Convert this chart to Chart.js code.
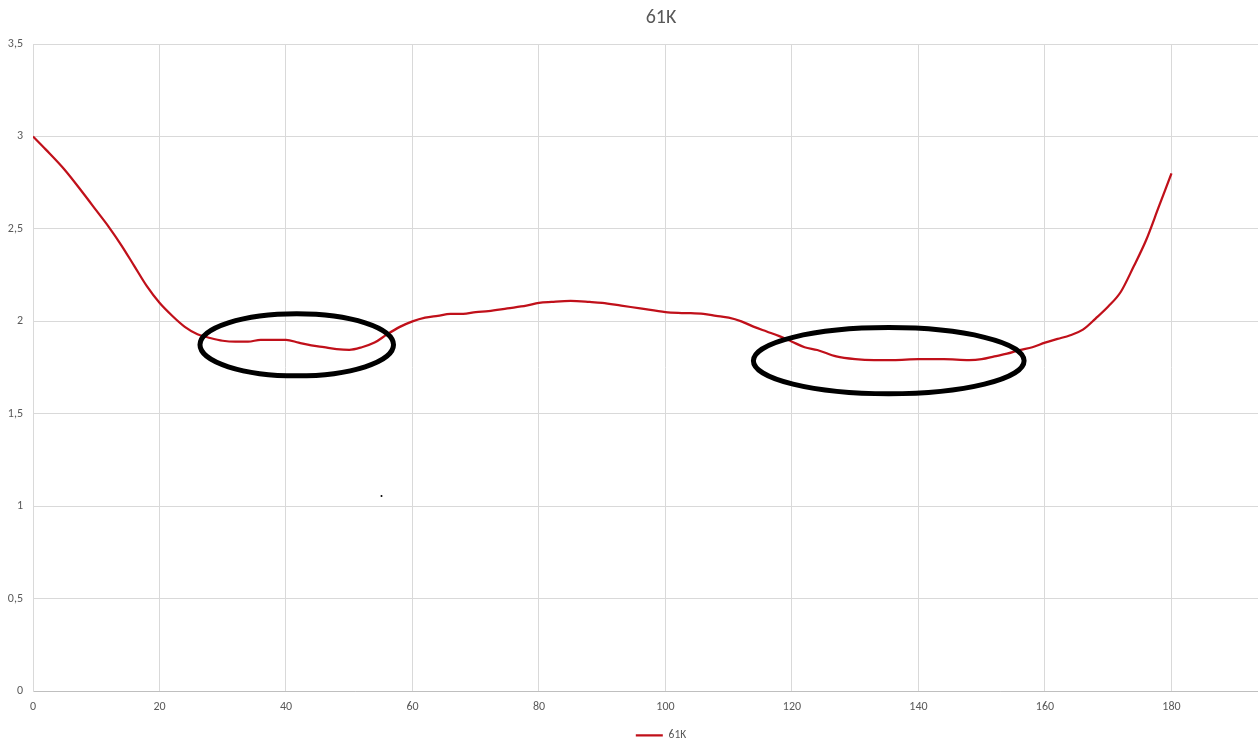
<!DOCTYPE html>
<html>
<head>
<meta charset="utf-8">
<script src="https://cdn.jsdelivr.net/npm/chart.js@4"></script>
<style>
    html, body { margin: 0; padding: 0; background: #fff; overflow: hidden; }
    /* the reference is a crop of a wider chart, so the canvas is wider than the window */
    #wrap { width: 1322px; height: 742px; }
</style>
</head>
<body>
<div id="wrap"><canvas id="chart"></canvas></div>
<script>
// series
const seriesName = '61K';
const xValues = [0, 2, 5, 8, 10, 12, 14, 16, 18, 20, 22, 24, 26, 28, 30, 32, 34, 36, 38, 40,
    42, 44, 46, 48, 50, 52, 54, 56, 58, 60, 62, 64, 66, 68, 70, 72, 75, 78, 80, 82,
    85, 88, 90, 93, 96, 100, 103, 106, 108, 110, 112, 114, 116, 118, 120, 122, 124, 127, 130, 133,
    136, 140, 144, 148, 150, 152, 154, 156, 158, 160, 162, 164, 166, 168, 170, 172, 174, 176, 178, 180];
const yValues = [3.0, 2.93, 2.82, 2.69, 2.60, 2.51, 2.41, 2.30, 2.19, 2.10, 2.03, 1.97, 1.93, 1.91, 1.895, 1.89, 1.89, 1.90, 1.90, 1.90,
    1.885, 1.87, 1.86, 1.85, 1.846, 1.86, 1.885, 1.93, 1.97, 2.00, 2.02, 2.03, 2.04, 2.04, 2.05, 2.055, 2.07, 2.085, 2.10, 2.105,
    2.11, 2.105, 2.10, 2.085, 2.07, 2.05, 2.045, 2.04, 2.03, 2.02, 2.00, 1.97, 1.945, 1.92, 1.89, 1.86, 1.845, 1.81, 1.795, 1.79,
    1.79, 1.795, 1.795, 1.79, 1.795, 1.81, 1.825, 1.845, 1.86, 1.885, 1.905, 1.925, 1.955, 2.015, 2.08, 2.16, 2.295, 2.44, 2.62, 2.80];

const xTicks = [0, 20, 40, 60, 80, 100, 120, 140, 160, 180, 200];
const yTicks = [0, 0.5, 1, 1.5, 2, 2.5, 3, 3.5];
const yTickLabels = ['0', '0,5', '1', '1,5', '2', '2,5', '3', '3,5'];

// hand drawn ellipses on top of the chart (data units)
const ellipseCx = [41.7, 135.3];
const ellipseCy = [1.873, 1.787];
const ellipseRx = [15.3, 21.4];
const ellipseRy = [0.168, 0.179];
// stray dot
const dotX = [55.1];
const dotY = [1.055];

const fontFamily = 'Carlito, "Liberation Sans", sans-serif';
const textColor = '#595959';
const lineColor = '#c0101a';

const ellipsePlugin = {
    id: 'ellipses',
    afterDatasetsDraw(chart) {
        const { ctx, scales: { x, y } } = chart;
        ctx.save();
        ctx.strokeStyle = '#000';
        ctx.lineWidth = 5;
        ellipseCx.forEach((cx, i) => {
            const px = x.getPixelForValue(cx);
            const py = y.getPixelForValue(ellipseCy[i]);
            const rx = x.getPixelForValue(cx + ellipseRx[i]) - px;
            const ry = py - y.getPixelForValue(ellipseCy[i] + ellipseRy[i]);
            ctx.beginPath();
            ctx.ellipse(px, py, rx, ry, 0, 0, Math.PI * 2);
            ctx.stroke();
        });
        ctx.fillStyle = '#000';
        dotX.forEach((dx, i) => {
            ctx.beginPath();
            ctx.arc(x.getPixelForValue(dx), y.getPixelForValue(dotY[i]), 1, 0, Math.PI * 2);
            ctx.fill();
        });
        ctx.restore();
    }
};

const ctx = document.getElementById('chart').getContext('2d');
new Chart(ctx, {
    type: 'line',
    data: {
        datasets: [{
            label: seriesName,
            data: xValues.map((v, i) => ({ x: v, y: yValues[i] })),
            borderColor: lineColor,
            backgroundColor: lineColor,
            borderWidth: 2.25,
            pointRadius: 0,
            tension: 0.4,
            cubicInterpolationMode: 'monotone'
        }]
    },
    options: {
        responsive: true,
        maintainAspectRatio: false,
        animation: false,
        layout: { padding: { left: 0, right: 0, top: 0, bottom: -9 } },
        plugins: {
            title: {
                display: true,
                text: seriesName,
                color: textColor,
                font: { family: fontFamily, size: 20, weight: 'normal' },
                padding: { top: 6, bottom: 14 }
            },
            legend: {
                position: 'bottom',
                labels: {
                    usePointStyle: true,
                    pointStyle: 'line',
                    pointStyleWidth: 27,
                    color: textColor,
                    font: { family: fontFamily, size: 11.5 },
                    padding: 1
                }
            },
            tooltip: { enabled: false }
        },
        scales: {
            x: {
                type: 'linear',
                min: 0,
                max: 203.8,
                afterBuildTicks: s => { s.ticks = xTicks.map(v => ({ value: v })); },
                afterFit: s => { s.height += 5; },
                grid: { color: '#d9d9d9', drawTicks: false },
                border: { color: '#bfbfbf' },
                ticks: { color: textColor, font: { family: fontFamily, size: 12 }, padding: 9, maxRotation: 0 }
            },
            y: {
                min: 0,
                max: 3.5,
                afterBuildTicks: s => { s.ticks = yTicks.map(v => ({ value: v })); },
                afterFit: s => { s.width = 33; },
                grid: { color: '#d9d9d9', drawTicks: false },
                border: { color: '#d9d9d9' },
                ticks: {
                    color: textColor,
                    font: { family: fontFamily, size: 12 },
                    padding: 10,
                    callback: (v, i) => yTickLabels[i]
                }
            }
        }
    },
    plugins: [ellipsePlugin]
});
</script>
</body>
</html>
